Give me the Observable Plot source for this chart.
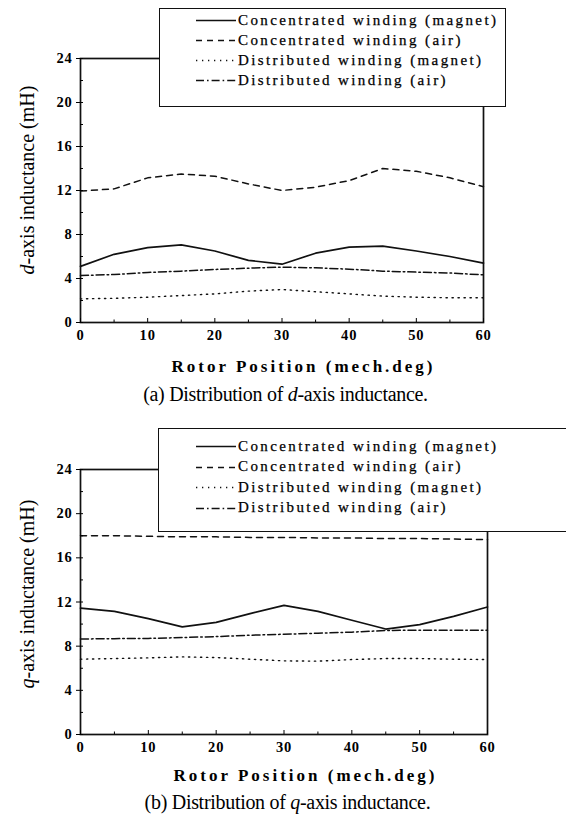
<!DOCTYPE html>
<html>
<head>
<meta charset="utf-8">
<script src="https://cdn.jsdelivr.net/npm/d3@7"></script>
<script src="https://cdn.jsdelivr.net/npm/@observablehq/plot@0.6"></script>
<style>
  html, body { margin: 0; padding: 0; background: #fff; }
  #wrap { position: relative; width: 566px; height: 823px; overflow: hidden; background: #fff;
          font-family: "Liberation Serif", "Times New Roman", serif; color: #000; }
  .panel { position: absolute; left: 0; }
  .panel svg { display: block; overflow: visible; }
  .panel svg g[aria-label="x-axis tick label"] text,
  .panel svg g[aria-label="y-axis tick label"] text { letter-spacing: 0.8px; }
  .ylab { position: absolute; white-space: nowrap; font-size: 20px; line-height: 22px;
          transform: translate(-50%, -50%) rotate(-90deg); }
  .xlab { position: absolute; white-space: nowrap; font-weight: bold;
          font-size: 17px; letter-spacing: 3px; line-height: 20px; transform: translate(-50%, -50%); }
  .cap { position: absolute; white-space: nowrap; font-size: 20px;
         letter-spacing: -0.3px; line-height: 22px; transform: translate(-50%, -50%); }
  .legend { position: absolute; background: #fff; border: 1.5px solid #111; box-sizing: border-box; z-index: 2; }
  .lrow { position: absolute; height: 20px; display: flex; align-items: center; white-space: nowrap;
          font-size: 15px; letter-spacing: 2.4px; -webkit-text-stroke: 0.25px #000; }
  .lrow svg { display: block; margin-right: 2px; }
</style>
</head>
<body>
<div id="wrap"></div>
<script>
// ---------------- data ----------------
const positions = [0, 5, 10, 15, 20, 25, 30, 35, 40, 45, 50, 55, 60];
const seriesNames = [
  "Concentrated winding (magnet)",
  "Concentrated winding (air)",
  "Distributed winding (magnet)",
  "Distributed winding (air)"
];
// (a) d-axis inductance (mH)
const dConcMagnet = [5.1, 6.2, 6.8, 7.05, 6.5, 5.65, 5.3, 6.3, 6.85, 6.95, 6.5, 6.0, 5.4];
const dConcAir    = [11.95, 12.15, 13.15, 13.5, 13.3, 12.6, 12.0, 12.3, 12.9, 14.0, 13.75, 13.15, 12.35];
const dDistMagnet = [2.15, 2.2, 2.3, 2.45, 2.6, 2.85, 3.0, 2.8, 2.6, 2.4, 2.3, 2.25, 2.25];
const dDistAir    = [4.27, 4.36, 4.55, 4.67, 4.82, 4.94, 5.03, 4.97, 4.85, 4.67, 4.58, 4.5, 4.33];
// (b) q-axis inductance (mH)
const qConcMagnet = [11.45, 11.15, 10.5, 9.75, 10.15, 10.95, 11.7, 11.15, 10.35, 9.55, 9.95, 10.7, 11.55];
const qConcAir    = [18.0, 18.0, 17.95, 17.9, 17.9, 17.85, 17.85, 17.8, 17.8, 17.75, 17.75, 17.7, 17.65];
const qDistMagnet = [6.82, 6.88, 6.94, 7.03, 6.97, 6.82, 6.67, 6.64, 6.79, 6.88, 6.88, 6.82, 6.79];
const qDistAir    = [8.65, 8.68, 8.7, 8.78, 8.87, 8.99, 9.08, 9.17, 9.27, 9.42, 9.45, 9.45, 9.45];

const yTicks = [0, 4, 8, 12, 16, 20, 24];
const xTicks = [0, 10, 20, 30, 40, 50, 60];
const xLabel = "Rotor Position (mech.deg)";

// ---------------- styles ----------------
const dashes = [null, "6,5", "1.3,4.7", "8,3,1.6,3"];
const widths = [1.7, 1.5, 1.4, 1.5];

function rows(arr) { return positions.map((p, i) => ({ pos: p, val: arr[i] })); }

function panel(seriesArrs, m) {
  return Plot.plot({
    width: 566, height: 345,
    marginLeft: m.l, marginRight: m.r, marginTop: m.t, marginBottom: m.b,
    x: { domain: [0, 60] },
    y: { domain: [0, 24] },
    style: { fontFamily: "'Liberation Serif', 'Times New Roman', serif", color: "#000", background: "transparent" },
    marks: [
      ...seriesArrs.map((arr, i) => Plot.line(rows(arr), {
        x: "pos", y: "val", stroke: "#111", strokeWidth: widths[i],
        strokeDasharray: dashes[i] || undefined
      })),
      Plot.frame({ stroke: "#111", strokeWidth: 1.7 }),
      Plot.axisY({ ticks: yTicks, tickSize: 4, tickPadding: 4, fontSize: 14.5, fontWeight: "bold", label: null }),
      Plot.axisY({ ticks: d3.range(0, 25, 2), tickSize: -3, fill: "none", label: null }),
      Plot.axisX({ ticks: d3.range(5, 60, 10), tickSize: -2.5, fill: "none", label: null }),
      Plot.axisX({ ticks: xTicks, tickSize: -4, fill: "none", label: null }),
      Plot.axisX({ ticks: xTicks, tickSize: 0, tickPadding: 7, fontSize: 14.5, fontWeight: "bold", label: null })
    ]
  });
}

const wrap = document.getElementById("wrap");

function addPanel(top, seriesArrs, m, yLabelHTML, yLabelPos, captionHTML, legendBox) {
  const div = document.createElement("div");
  div.className = "panel";
  div.style.top = top + "px";
  div.appendChild(panel(seriesArrs, m));
  wrap.appendChild(div);

  const yl = document.createElement("div");
  yl.className = "ylab";
  yl.innerHTML = yLabelHTML;
  yl.style.left = yLabelPos[0] + "px";
  yl.style.top = yLabelPos[1] + "px";
  wrap.appendChild(yl);

  const axisBottom = top + 345 - m.b;
  const plotCenter = m.l + (566 - m.l - m.r) / 2;
  const xl = document.createElement("div");
  xl.className = "xlab";
  xl.textContent = xLabel;
  xl.style.left = (plotCenter + 22) + "px";
  xl.style.top = (axisBottom + m.xo) + "px";
  wrap.appendChild(xl);

  const cap = document.createElement("div");
  cap.className = "cap";
  cap.innerHTML = captionHTML;
  cap.style.left = (plotCenter + 4) + "px";
  cap.style.top = (axisBottom + m.co) + "px";
  wrap.appendChild(cap);

  const lg = document.createElement("div");
  lg.className = "legend";
  lg.style.left = legendBox.x + "px";
  lg.style.top = legendBox.y + "px";
  lg.style.width = legendBox.w + "px";
  lg.style.height = legendBox.h + "px";
  seriesNames.forEach((name, i) => {
    const r = document.createElement("div");
    r.className = "lrow";
    r.style.left = legendBox.sx + "px";
    r.style.top = (legendBox.r0 + i * legendBox.dr - 10) + "px";
    const s = d3.create("svg").attr("width", 40).attr("height", 10);
    s.append("line").attr("x1", 0).attr("x2", 40).attr("y1", 5.5).attr("y2", 5.5)
      .attr("stroke", "#111").attr("stroke-width", widths[i])
      .attr("stroke-dasharray", dashes[i] || null);
    r.appendChild(s.node());
    const t = document.createElement("span");
    t.textContent = name;
    r.appendChild(t);
    lg.appendChild(r);
  });
  wrap.appendChild(lg);
}

addPanel(0, [dConcMagnet, dConcAir, dDistMagnet, dDistAir],
  { l: 80, r: 83, t: 58, b: 23, xo: 45, co: 72 },
  "<i>d</i>-axis inductance (mH)", [27, 180],
  "(a) Distribution of <i>d</i>-axis inductance.",
  { x: 159, y: 8, w: 347, h: 99, sx: 36, r0: 11, dr: 20 });

addPanel(412, [qConcMagnet, qConcAir, qDistMagnet, qDistAir],
  { l: 80, r: 79, t: 57, b: 23, xo: 42, co: 68 },
  "<i>q</i>-axis inductance (mH)", [27, 594],
  "(b) Distribution of <i>q</i>-axis inductance.",
  { x: 158, y: 428, w: 440, h: 104, sx: 37, r0: 17, dr: 20.5 });
</script>
</body>
</html>
